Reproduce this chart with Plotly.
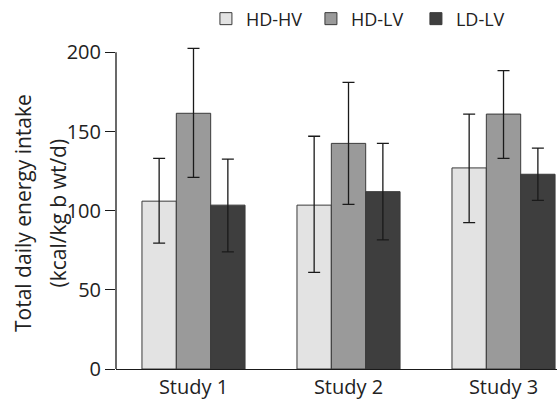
import plotly.graph_objects as go

studies = ["Study 1", "Study 2", "Study 3"]
groups = ["HD-HV", "HD-LV", "LD-LV"]
means = {
    "HD-HV": [106, 103.5, 127],
    "HD-LV": [161.5, 142.5, 161],
    "LD-LV": [103.5, 112, 123],
}
upper = {
    "HD-HV": [133, 147, 161],
    "HD-LV": [202.5, 181, 188.5],
    "LD-LV": [132.5, 142.5, 139.5],
}
lower = {
    "HD-HV": [79.5, 61, 92.5],
    "HD-LV": [121, 104, 133],
    "LD-LV": [74, 81.5, 106.5],
}
ytitle_lines = ["Total daily energy intake", "(kcal/kg b wt/d)"]
colors = {"HD-HV": "#e3e3e3", "HD-LV": "#9a9a9a", "LD-LV": "#3e3e3e"}

FONT = "Open Sans"
fig = go.Figure()
for g in groups:
    m = means[g]
    fig.add_trace(go.Bar(
        name=g, x=studies, y=m,
        marker=dict(color=colors[g], line=dict(color="#3a3a3a", width=1)),
        error_y=dict(type="data", symmetric=False,
                     array=[u - v for u, v in zip(upper[g], m)],
                     arrayminus=[v - l for v, l in zip(m, lower[g])],
                     color="#1a1a1a", thickness=1.3, width=6),
    ))

fig.add_shape(type="line", xref="paper", yref="y", x0=0, x1=0, y0=0, y1=200,
              line=dict(color="#1a1a1a", width=1.3), layer="above")

for txt, xpx in zip(ytitle_lines, [23, 57.5]):
    fig.add_annotation(text=txt, xref="paper", yref="paper",
                       x=(xpx - 116) / 441, y=(369 - 213) / 323,
                       xanchor="center", yanchor="middle", textangle=-90,
                       showarrow=False, font=dict(size=21, color="#222222"))

fig.update_layout(
    width=557, height=403,
    margin=dict(l=116, r=0, t=46, b=34, autoexpand=False),
    barmode="group", bargap=0.335, bargroupgap=0,
    plot_bgcolor="white", paper_bgcolor="white",
    font=dict(family=FONT, color="#222222", size=18),
    legend=dict(orientation="h", xref="container", yref="container",
                x=0.3697, y=0.953, xanchor="left", yanchor="middle",
                font=dict(size=18), entrywidth=60, entrywidthmode="pixels",
                bgcolor="rgba(0,0,0,0)"),
    xaxis=dict(range=[-0.5, 2.345], showline=True, linecolor="#1a1a1a",
               linewidth=1.3, ticks="", showgrid=False, zeroline=False,
               tickfont=dict(size=20), automargin=False),
    yaxis=dict(range=[0, 204], tickvals=[0, 50, 100, 150, 200],
               showline=False, ticks="outside", ticklen=10, tickwidth=1.3,
               tickcolor="#1a1a1a", showgrid=False, zeroline=False,
               tickfont=dict(size=20), automargin=False),
)
fig.write_html("out.html", config={"displayModeBar": False},
               post_script="document.body.style.margin='0';document.body.style.overflow='hidden';")
